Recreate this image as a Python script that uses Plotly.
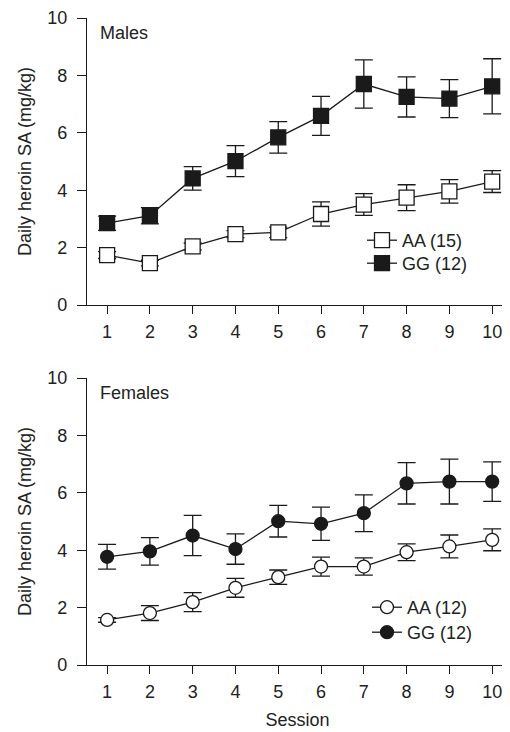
import plotly.graph_objects as go

sessions = [1, 2, 3, 4, 5, 6, 7, 8, 9, 10]

male_aa = [1.74, 1.46, 2.04, 2.47, 2.53, 3.17, 3.50, 3.74, 3.96, 4.30]
male_aa_err = [0.12, 0.10, 0.12, 0.12, 0.18, 0.42, 0.38, 0.45, 0.41, 0.38]
male_gg = [2.85, 3.11, 4.41, 5.01, 5.84, 6.59, 7.70, 7.25, 7.19, 7.62]
male_gg_err = [0.25, 0.28, 0.41, 0.54, 0.55, 0.68, 0.84, 0.70, 0.66, 0.96]

fem_aa = [1.57, 1.81, 2.19, 2.69, 3.06, 3.43, 3.43, 3.93, 4.13, 4.36]
fem_aa_err = [0.08, 0.26, 0.33, 0.33, 0.25, 0.33, 0.30, 0.29, 0.40, 0.38]
fem_gg = [3.77, 3.96, 4.51, 4.04, 5.01, 4.92, 5.29, 6.33, 6.39, 6.39]
fem_gg_err = [0.43, 0.48, 0.70, 0.53, 0.55, 0.58, 0.64, 0.72, 0.78, 0.69]

y_ticks = [0, 2, 4, 6, 8, 10]
FONT = "Liberation Sans, Arial, Helvetica, sans-serif"
INK = "#1a1a1a"
TXT = "#222222"
FS = 18

# page offset (body margin) and layout geometry in screen pixels
OFF = 8
W, H = 510, 732
X_LEFT, X_RIGHT = 87, 508
TOP_Y10, TOP_Y0 = 18, 305
BOT_Y10, BOT_Y0 = 378, 665

ML = X_LEFT - OFF
MR = W - (X_RIGHT - OFF)
MT = TOP_Y10 - OFF
MB = H - (BOT_Y0 - OFF)
PW, PH = W - ML - MR, H - MT - MB


def px_x(p):
    return (p - OFF - ML) / PW


def px_y(p):
    return (H - MB - (p - OFF)) / PH


fig = go.Figure()


def add_series(y, err, name, symbol, fill, xa, ya, legend, size):
    fig.add_trace(go.Scatter(
        x=sessions, y=y, name=name, mode="lines+markers",
        xaxis=xa, yaxis=ya, legend=legend,
        line=dict(color=INK, width=1.3),
        marker=dict(symbol=symbol, size=size, color=fill,
                    line=dict(color=INK, width=1.3)),
        error_y=dict(type="data", array=err, visible=True,
                     color=INK, thickness=1.3, width=9),
    ))


add_series(male_aa, male_aa_err, "AA (15)", "square", "white", "x", "y", "legend", 15)
add_series(male_gg, male_gg_err, "GG (12)", "square", INK, "x", "y", "legend2", 15)
add_series(fem_aa, fem_aa_err, "AA (12)", "circle", "white", "x2", "y2", "legend3", 13)
add_series(fem_gg, fem_gg_err, "GG (12)", "circle", INK, "x2", "y2", "legend4", 13)

top_dom = [px_y(TOP_Y0), px_y(TOP_Y10)]
bot_dom = [px_y(BOT_Y0), px_y(BOT_Y10)]

tfont = dict(size=FS, color=TXT, family=FONT)
xcommon = dict(range=[0.53, 10.37], tickvals=sessions, showline=True,
               linecolor=INK, linewidth=1.3, ticks="outside", ticklen=8,
               tickwidth=1.3, tickcolor=INK, showgrid=False, zeroline=False,
               tickfont=tfont, domain=[0, 1], automargin=False,
               ticklabelstandoff=2)
ycommon = dict(range=[0, 10], tickvals=y_ticks, showline=True,
               linecolor=INK, linewidth=1.3, ticks="outside", ticklen=9,
               tickwidth=1.3, tickcolor=INK, showgrid=False, zeroline=False,
               tickfont=tfont, automargin=False, ticklabelstandoff=6,
               title=dict(text="Daily heroin SA (mg/kg)", font=tfont, standoff=10))

LEG_DY = 19  # legend top to item centre


def leg(xc, yc):
    return dict(font=tfont, bgcolor="rgba(0,0,0,0)", xanchor="left", yanchor="top",
                itemwidth=30, x=px_x(xc), y=px_y(yc - LEG_DY))


fig.update_layout(
    width=W, height=H,
    margin=dict(l=ML, r=MR, t=MT, b=MB, autoexpand=False),
    paper_bgcolor="white", plot_bgcolor="white",
    font=dict(family=FONT, color=TXT),
    showlegend=True,
    xaxis=dict(**xcommon, anchor="y"),
    yaxis=dict(**ycommon, domain=top_dom, anchor="x"),
    xaxis2=dict(**xcommon, anchor="y2",
                title=dict(text="Session", font=tfont, standoff=12)),
    yaxis2=dict(**ycommon, domain=bot_dom, anchor="x2"),
    legend=leg(362, 241),
    legend2=leg(362, 264),
    legend3=leg(367, 608),
    legend4=leg(367, 633),
    annotations=[
        dict(text="Males", xref="paper", yref="paper", x=px_x(98), y=px_y(33),
             xanchor="left", yanchor="middle", showarrow=False, font=tfont),
        dict(text="Females", xref="paper", yref="paper", x=px_x(98), y=px_y(393),
             xanchor="left", yanchor="middle", showarrow=False, font=tfont),
    ],
)

fig.write_html("out.html")
